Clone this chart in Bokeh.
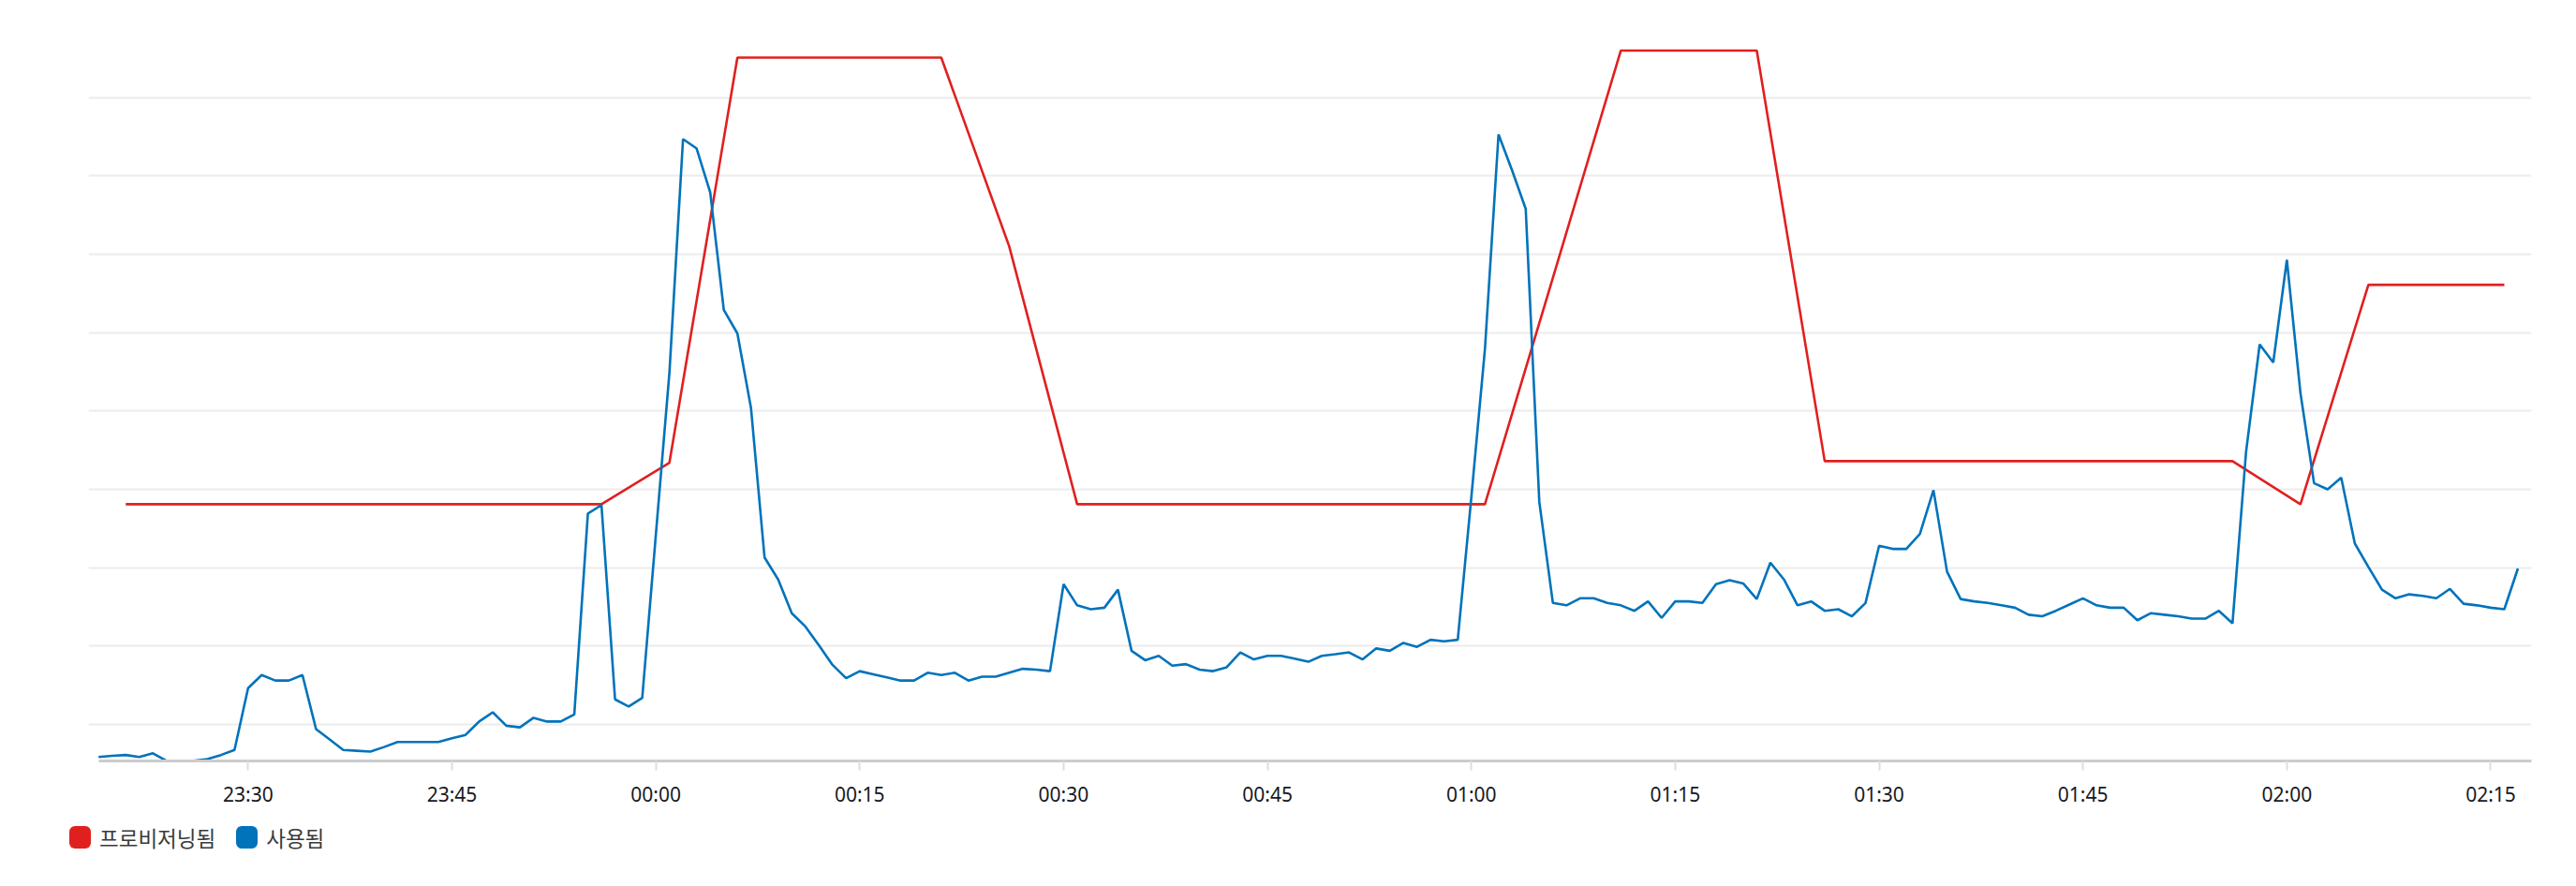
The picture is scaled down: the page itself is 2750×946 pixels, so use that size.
import pandas as pd
from bokeh.plotting import figure
from bokeh.layouts import column
from bokeh.models import (ColumnDataSource, FixedTicker, DatetimeTickFormatter,
                          Range1d, Div)
from bokeh.embed import file_html
from bokeh.resources import INLINE

# ---------------- data ----------------
series_names = ["프로비저닝됨", "사용됨"]
series_colors = ["#e0201f", "#0073bb"]

base_day = "2024-05-20"
used_start = "2024-05-20 23:19"        # 1-minute samples
used_values = [
    5.84, 6.0, 6.10, 5.84, 6.32, 5.36, 5.36, 5.36, 5.57, 6.10,          # 23:19-23:28
    6.74, 14.64, 16.30, 15.60, 15.60, 16.30, 9.41, 8.08, 6.74, 6.64,    # 23:29-23:38
    6.53, 7.12, 7.76, 7.76, 7.76, 7.76, 8.24, 8.67, 10.37, 11.55,       # 23:39-23:48
    9.84, 9.63, 10.85, 10.37, 10.37, 11.28, 36.9, 38.0, 13.2, 12.29,    # 23:49-23:58
    13.4, 34.2, 54.9, 84.7, 83.5, 77.9, 62.9, 59.9, 50.4, 31.3,         # 23:59-00:08
    28.5, 24.2, 22.5, 20.1, 17.6, 15.9, 16.8, 16.4, 16.0, 15.6,         # 00:09-00:18
    15.6, 16.6, 16.3, 16.6, 15.6, 16.1, 16.1, 16.6, 17.1, 17.0,         # 00:19-00:28
    16.8, 27.9, 25.2, 24.7, 24.9, 27.2, 19.4, 18.2, 18.75, 17.5,        # 00:29-00:38
    17.7, 17.0, 16.8, 17.3, 19.2, 18.3, 18.75, 18.75, 18.4, 18.0,       # 00:39-00:48
    18.75, 18.96, 19.2, 18.3, 19.7, 19.4, 20.4, 19.9, 20.8, 20.6,       # 00:49-00:58
    20.8, 39.0, 57.9, 85.3, 80.7, 75.8, 38.4, 25.5, 25.2, 26.1,         # 00:59-01:08
    26.1, 25.5, 25.2, 24.5, 25.7, 23.6, 25.7, 25.7, 25.5, 27.9,         # 01:09-01:18
    28.4, 28.0, 26.0, 30.65, 28.5, 25.2, 25.7, 24.5, 24.7, 23.8,        # 01:19-01:28
    25.5, 32.8, 32.4, 32.4, 34.3, 39.9, 29.5, 26.0, 25.7, 25.5,         # 01:29-01:38
    25.2, 24.9, 24.0, 23.8, 24.5, 25.3, 26.1, 25.2, 24.9, 24.9,         # 01:39-01:48
    23.3, 24.2, 24.0, 23.8, 23.5, 23.5, 24.5, 22.9, 44.8, 58.5,         # 01:49-01:58
    56.2, 69.3, 52.3, 40.8, 40.0, 41.5, 33.1, 30.1, 27.2, 26.1,         # 01:59-02:08
    26.6, 26.4, 26.1, 27.3, 25.4, 25.2, 24.9, 24.7, 29.9,               # 02:09-02:17
]

prov_start = "2024-05-20 23:21"        # 5-minute samples
prov_values = [
    38.1, 38.1, 38.1, 38.1, 38.1, 38.1, 38.1, 38.1,      # 23:21-23:56
    43.4, 95.1, 95.1, 95.1, 95.1, 71.0,                  # 00:01-00:26
    38.1, 38.1, 38.1, 38.1, 38.1, 38.1, 38.1,            # 00:31-01:01
    67.0, 96.0, 96.0, 96.0,                              # 01:06-01:21
    43.6, 43.6, 43.6, 43.6, 43.6, 43.6, 43.6,            # 01:26-01:56
    38.1, 66.1, 66.1, 66.1,                              # 02:01-02:16
]

tick_labels = ["23:30", "23:45", "00:00", "00:15", "00:30", "00:45", "01:00",
               "01:15", "01:30", "01:45", "02:00", "02:15"]
grid_values = [10, 20, 30, 40, 50, 60, 70, 80, 90]

# ---------------- derived ----------------
used_t = pd.date_range(used_start, periods=len(used_values), freq="1min")
prov_t = pd.date_range(prov_start, periods=len(prov_values), freq="5min")


def label_to_ts(lbl):
    hh = int(lbl.split(":")[0])
    day = pd.Timestamp(base_day) + pd.Timedelta(days=0 if hh >= 12 else 1)
    return day + pd.Timedelta(hours=hh, minutes=int(lbl.split(":")[1]))


tick_ts = [label_to_ts(l) for l in tick_labels]
tick_ms = [int(t.value // 10**6) for t in tick_ts]

x_start = tick_ts[0] - pd.Timedelta(minutes=11.74)
x_end = tick_ts[0] + pd.Timedelta(minutes=168.0)

used_src = ColumnDataSource(dict(t=used_t, v=used_values))
prov_src = ColumnDataSource(dict(t=prov_t, v=prov_values))

W = 2744

p = figure(width=W, height=870, x_axis_type="datetime",
           x_range=Range1d(x_start, x_end), y_range=Range1d(5.34, 100),
           output_backend="svg", toolbar_location=None,
           min_border_left=94, min_border_right=42,
           min_border_top=20, min_border_bottom=58)
p.title.visible = False
p.outline_line_color = None
p.background_fill_color = "white"
p.border_fill_color = "white"

# grid
p.yaxis.visible = False
p.yaxis.ticker = FixedTicker(ticks=grid_values)
p.ygrid.ticker = FixedTicker(ticks=grid_values)
p.ygrid.grid_line_color = "#ececec"
p.ygrid.grid_line_width = 2
p.xgrid.visible = False

# x axis
ax = p.xaxis[0]
ax.ticker = FixedTicker(ticks=tick_ms)
fmt = "%H:%M"
ax.formatter = DatetimeTickFormatter(milliseconds=fmt, seconds=fmt, minsec=fmt,
                                     minutes=fmt, hourmin=fmt, hours=fmt,
                                     days=fmt, months=fmt, years=fmt)
ax.bounds = (used_t[0], x_end)
ax.axis_line_color = "#cccccc"
ax.axis_line_width = 3
ax.major_tick_line_color = "#dedede"
ax.major_tick_line_width = 2
ax.major_tick_out = 10
ax.major_tick_in = 0
ax.minor_tick_line_color = None
ax.major_label_standoff = 11
ax.major_label_text_font = "Noto Sans"
ax.major_label_text_font_size = "21px"
ax.major_label_text_color = "#16191f"

# lines
p.line("t", "v", source=prov_src, line_color=series_colors[0], line_width=2.6)
p.line("t", "v", source=used_src, line_color=series_colors[1], line_width=2.6)

# ---------------- legend strip (HTML) ----------------
items_html = []
for i, (name, col) in enumerate(zip(series_names, series_colors)):
    gap = "margin-left:22px;" if i > 0 else ""
    items_html.append(
        f'<span style="display:inline-block;width:23px;height:24px;border-radius:6px;'
        f'background:{col};margin-right:9px;{gap}"></span>'
        f'<span style="line-height:24px;">{name}</span>'
    )
legend_html = (
    '<div style="display:flex;align-items:center;height:24px;margin-top:12px;'
    "margin-left:74px;font-family:'Noto Sans CJK KR';font-size:22.5px;"
    'color:#3a3a3a;white-space:nowrap;">' + "".join(items_html) + "</div>"
)
legend_div = Div(text=legend_html, width=W, height=60, margin=(0, 0, 0, 0))

open("out.html", "w").write(file_html(column(p, legend_div, spacing=0), INLINE))
